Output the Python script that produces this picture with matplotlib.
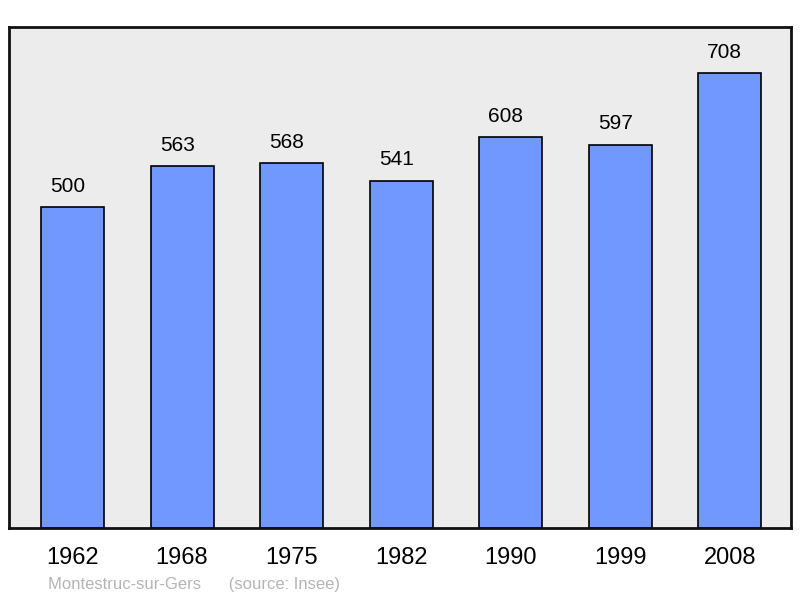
import matplotlib
matplotlib.use("Agg")
import matplotlib.pyplot as plt

years = ["1962", "1968", "1975", "1982", "1990", "1999", "2008"]
population = [500, 563, 568, 541, 608, 597, 708]

plt.rcParams["font.family"] = ["Liberation Sans", "DejaVu Sans"]

fig = plt.figure(figsize=(8, 5.98), dpi=100)
ax = fig.add_axes([9 / 800, 70 / 598, 782 / 800, 501 / 598])
ax.set_facecolor("#ececec")

x = range(len(years))
bars = ax.bar(x, population, width=0.575, color="#7098ff",
              edgecolor="black", linewidth=1.2)

# value labels sit a bit left of the bar centre, like the original
for b, v in zip(bars, population):
    ax.annotate(str(v), (b.get_x() + b.get_width() / 2, v),
                xytext=(-3.5, 8), textcoords="offset points",
                ha="center", va="bottom", fontsize=15)

ax.set_xlim(-0.58, 6.56)
ax.set_ylim(0, 780)
ax.set_yticks([])
ax.set_xticks(list(x))
ax.set_xticklabels(years, fontsize=17)
ax.tick_params(axis="x", length=0, pad=14)
for s in ax.spines.values():
    s.set_linewidth(2)
    s.set_color("#111111")

fig.text(48 / 800, 1 - 584 / 598, "Montestruc-sur-Gers      (source: Insee)",
         fontsize=12, color="#b4b4b4", va="center", ha="left")

fig.savefig("out.png", dpi=100)
